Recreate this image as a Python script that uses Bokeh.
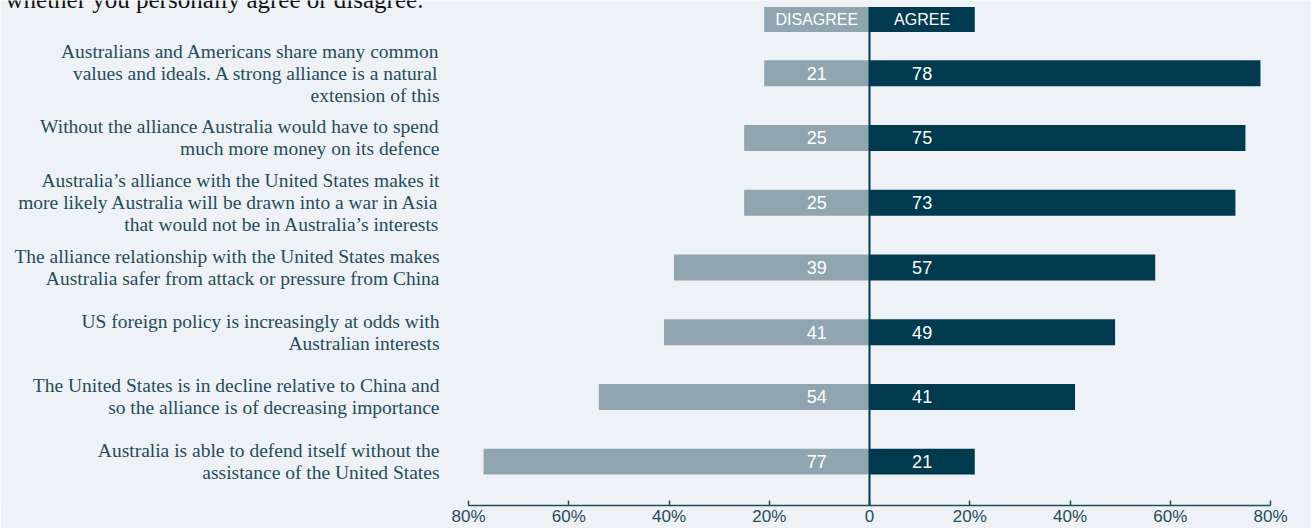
from bokeh.plotting import figure
from bokeh.models import ColumnDataSource, Range1d, FixedTicker
from bokeh.core.properties import value
from bokeh.embed import file_html
from bokeh.resources import INLINE

statements = [
    "Australians and Americans share many common\nvalues and ideals. A strong alliance is a natural\nextension of this",
    "Without the alliance Australia would have to spend\nmuch more money on its defence",
    "Australia\u2019s alliance with the United States makes it\nmore likely Australia will be drawn into a war in Asia\nthat would not be in Australia\u2019s interests",
    "The alliance relationship with the United States makes\nAustralia safer from attack or pressure from China",
    "US foreign policy is increasingly at odds with\nAustralian interests",
    "The United States is in decline relative to China and\nso the alliance is of decreasing importance",
    "Australia is able to defend itself without the\nassistance of the United States",
]
agree = [78, 75, 73, 57, 49, 41, 21]
disagree = [21, 25, 25, 39, 41, 54, 77]
tick_values = [-80, -60, -40, -20, 0, 20, 40, 60, 80]
tick_labels = ["80%", "60%", "40%", "20%", "0", "20%", "40%", "60%", "80%"]
header_labels = ["DISAGREE", "AGREE"]
title_fragment = "whether you personally agree or disagree."

BG = "#eef2f6"
C_DIS = "#8fa6b0"
C_AGR = "#003a4f"
C_TXT = "#1f4d5c"

W, H = 1311, 528
FRAME_H = 507
PX_PER_ROW = 65.0
ROW0_PX = 73.0
PX_PER_UNIT = 401.0 / 80.0
ZERO_PX = 869.0

x_start = -ZERO_PX / PX_PER_UNIT
x_end = (W - ZERO_PX) / PX_PER_UNIT
y_top = -ROW0_PX / PX_PER_ROW
y_bottom = (FRAME_H - ROW0_PX) / PX_PER_ROW

idx = list(range(len(statements)))
src = ColumnDataSource(dict(
    y=idx,
    agree=agree,
    dis_neg=[-d for d in disagree],
    agree_lbl=[str(a) for a in agree],
    dis_lbl=[str(d) for d in disagree],
    text=statements,
))

p = figure(width=W, height=H, output_backend="svg", toolbar_location=None,
           x_range=Range1d(x_start, x_end), y_range=Range1d(y_bottom, y_top),
           min_border_left=0, min_border_right=0, min_border_top=0, min_border_bottom=0)
p.background_fill_color = BG
p.border_fill_color = BG
p.outline_line_color = None
p.grid.visible = False
p.yaxis.visible = False

bar_h = 26 / PX_PER_ROW
p.hbar(y="y", left="dis_neg", right=0, height=bar_h, source=src, fill_color=C_DIS, line_color=None)
p.hbar(y="y", left=0, right="agree", height=bar_h, source=src, fill_color=C_AGR, line_color=None)

# header
hy = -54 / PX_PER_ROW
hh = 25 / PX_PER_ROW
hsrc = ColumnDataSource(dict(left=[-21, 0], right=[0, 21], y=[hy, hy], c=[C_DIS, C_AGR],
                             xc=[-10.5, 10.5], t=header_labels))
p.hbar(y="y", left="left", right="right", height=hh, fill_color="c", line_color=None, source=hsrc)
p.text(x="xc", y="y", text="t", source=hsrc, text_color="white", text_align="center",
       text_baseline="middle", text_font=value("Liberation Sans"), text_font_size="16px")

# center line
p.segment(x0=[0], y0=[hy - hh / 2], x1=[0], y1=[y_bottom], line_color=C_AGR, line_width=2)

# value labels
p.text(x=-10.5, y="y", text="dis_lbl", source=src, text_color="white", text_align="center",
       text_baseline="middle", text_font=value("Liberation Sans"), text_font_size="18px")
p.text(x=10.5, y="y", text="agree_lbl", source=src, text_color="white", text_align="center",
       text_baseline="middle", text_font=value("Liberation Sans"), text_font_size="18px")

# statements
p.text(x=(439 - ZERO_PX) / PX_PER_UNIT, y="y", text="text", source=src, text_color=C_TXT,
       text_align="right", text_baseline="middle", text_font=value("Liberation Serif"),
       text_font_size="19.5px", text_line_height=1.05)

# clipped title fragment (cut by the top edge, as in the reference)
p.text(x=[(5 - ZERO_PX) / PX_PER_UNIT], y=[(-1 - ROW0_PX) / PX_PER_ROW], text=[title_fragment],
       text_color="#111111", text_align="left", text_baseline="alphabetic",
       text_font=value("Liberation Serif"), text_font_size="25px")

ax = p.xaxis[0]
ax.bounds = (-80, 80)
ax.ticker = FixedTicker(ticks=tick_values)
ax.major_label_overrides = {v: l for v, l in zip(tick_values, tick_labels)}
ax.minor_tick_line_color = None
ax.major_tick_in = 5
ax.major_tick_out = 0
ax.major_label_standoff = 1
ax.axis_line_color = C_TXT
ax.axis_line_width = 1.5
ax.major_tick_line_color = C_TXT
ax.major_tick_line_width = 1.5
ax.major_label_text_color = C_TXT
ax.major_label_text_font = "Liberation Sans"
ax.major_label_text_font_size = "17px"

open("out.html", "w").write(file_html(p, INLINE))
